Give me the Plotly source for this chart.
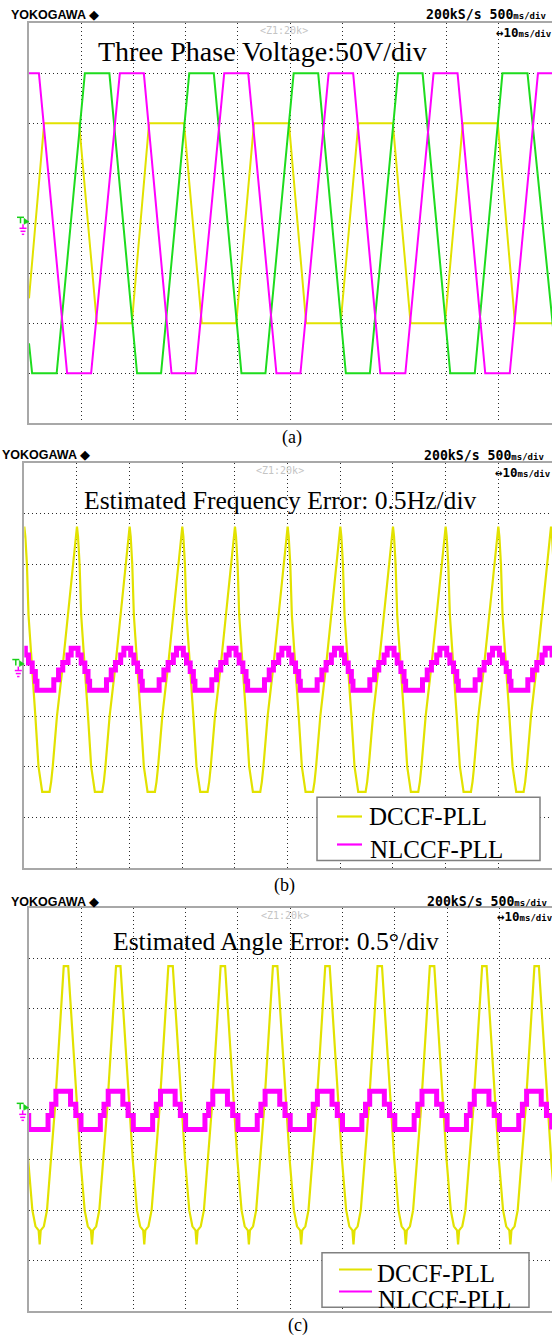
import plotly.graph_objects as go

W, H = 552, 1337

# ---------------- Panel (a): three-phase voltage (x in divisions, y in divisions) ----------------
PHASE_YELLOW_T = [0.00, 0.29, 0.96, 1.30, 1.97, 2.30, 2.97, 3.31, 3.97, 4.31, 4.98,
                  5.31, 5.97, 6.31, 6.97, 7.31, 7.97, 8.31, 8.98, 9.31, 10.05]
PHASE_YELLOW_V = [-1.5, 2, 2, -2, -2, 2, 2, -2, -2, 2, 2,
                  -2, -2, 2, 2, -2, -2, 2, 2, -2, -2]
PHASE_GREEN_T = [0.00, 0.06, 0.53, 1.07, 1.54, 2.07, 2.53, 3.07, 3.54, 4.07, 4.53,
                 5.07, 5.54, 6.07, 6.53, 7.07, 7.54, 8.07, 8.54, 9.07, 9.55, 10.05]
PHASE_GREEN_V = [-2.4, -3, -3, 3, 3, -3, -3, 3, 3, -3, -3,
                 3, 3, -3, -3, 3, 3, -3, -3, 3, 3, -2.2]
PHASE_MAGENTA_T = [0.00, 0.19, 0.73, 1.19, 1.74, 2.20, 2.73, 3.19, 3.74, 4.20, 4.74,
                   5.20, 5.74, 6.21, 6.73, 7.21, 7.75, 8.21, 8.74, 9.21, 9.75, 10.05]
PHASE_MAGENTA_V = [3, 3, -3, -3, 3, 3, -3, -3, 3, 3, -3,
                   -3, 3, 3, -3, -3, 3, 3, -3, -3, 3, 3]

# ---------------- Panel (b): estimated frequency error ----------------
FREQ_CYCLE_STARTS = [-1, 0, 1, 2, 3, 4, 5, 6, 7, 8, 9, 10]      # DCCF peaks (div)
DCCF_FREQ_U = [0.00, 0.02, 0.05, 0.08, 0.15, 0.21, 0.27, 0.31, 0.34, 0.48,
               0.51, 0.54, 0.62, 0.73, 0.83, 0.92, 0.97]
DCCF_FREQ_V = [2.75, 2.55, 2.0, 1.0, 0.0, -1.0, -2.0, -2.35, -2.5, -2.5,
               -2.3, -2.0, -1.0, 0.0, 1.0, 2.0, 2.5]
NLCCF_FREQ_U = [0.00, 0.02, 0.02, 0.08, 0.08, 0.15, 0.15, 0.21, 0.21, 0.24, 0.24,
                0.56, 0.56, 0.65, 0.65, 0.73, 0.73, 0.83, 0.83, 0.89, 0.89]
NLCCF_FREQ_V = [0.34, 0.34, 0.21, 0.21, 0.05, 0.05, -0.12, -0.12, -0.31, -0.31, -0.49,
                -0.49, -0.28, -0.28, -0.09, -0.09, 0.06, 0.06, 0.21, 0.21, 0.34]

# ---------------- Panel (c): estimated angle error ----------------
ANGLE_CYCLE_STARTS = [-0.79, 0.21, 1.21, 2.21, 3.21, 4.21, 5.21, 6.21, 7.21, 8.21, 9.21]  # DCCF troughs
DCCF_ANGLE_U = [0.00, 0.02, 0.08, 0.14, 0.22, 0.29, 0.35, 0.41, 0.445, 0.46, 0.545,
                0.56, 0.59, 0.65, 0.71, 0.78, 0.86, 0.92, 0.98]
DCCF_ANGLE_V = [-2.68, -2.40, -2.32, -2.0, -1.0, 0.0, 1.0, 2.0, 2.6, 2.84, 2.84,
                2.6, 2.0, 1.0, 0.0, -1.0, -2.0, -2.32, -2.40]
NLCCF_ANGLE_U = [0.00, 0.16, 0.16, 0.23, 0.23, 0.31, 0.31, 0.59, 0.59, 0.69, 0.69, 0.79, 0.79]
NLCCF_ANGLE_V = [-0.40, -0.40, -0.12, -0.12, 0.10, 0.10, 0.36, 0.36, 0.10, 0.10, -0.12, -0.12, -0.40]

SERIES_NAMES = ["DCCF-PLL", "NLCCF-PLL"]
TITLES = ["Three Phase Voltage:50V/div", "Estimated Frequency Error: 0.5Hz/div",
          "Estimated Angle Error: 0.5°/div"]
CAPTIONS = ["(a)", "(b)", "(c)"]

YELLOW = "#e2e200"
MAGENTA = "#ff00ff"
GREEN = "#1edc1e"

# panel geometry in pixels
PANELS = [
    dict(L=29.0, div=52.2, top=23.3, bot=423.3),
    dict(L=24.3, div=52.67, top=463.3, bot=867.8),
    dict(L=28.7, div=52.3, top=907.7, bot=1311.0),
]


def px(x):
    return x / W


def py(y):
    return 1 - y / H


def tile(starts, u, v):
    xs, ys = [], []
    for s in starts:
        for a, b in zip(u, v):
            xs.append(s + a)
            ys.append(b)
    return xs, ys


fig = go.Figure()

# (a)
fig.add_trace(go.Scatter(x=PHASE_YELLOW_T, y=PHASE_YELLOW_V, mode="lines", name="Va",
                         line=dict(color=YELLOW, width=2), xaxis="x", yaxis="y"))
fig.add_trace(go.Scatter(x=PHASE_GREEN_T, y=PHASE_GREEN_V, mode="lines", name="Vb",
                         line=dict(color=GREEN, width=2), xaxis="x", yaxis="y"))
fig.add_trace(go.Scatter(x=PHASE_MAGENTA_T, y=PHASE_MAGENTA_V, mode="lines", name="Vc",
                         line=dict(color=MAGENTA, width=2), xaxis="x", yaxis="y"))

# (b)
bx, by = tile(FREQ_CYCLE_STARTS, DCCF_FREQ_U, DCCF_FREQ_V)
fig.add_trace(go.Scatter(x=bx, y=by, mode="lines", name=SERIES_NAMES[0],
                         line=dict(color=YELLOW, width=2.2), xaxis="x2", yaxis="y2"))
bx, by = tile(FREQ_CYCLE_STARTS, NLCCF_FREQ_U, NLCCF_FREQ_V)
fig.add_trace(go.Scatter(x=bx, y=by, mode="lines", name=SERIES_NAMES[1],
                         line=dict(color=MAGENTA, width=5), xaxis="x2", yaxis="y2"))

# (c)
cx, cy = tile(ANGLE_CYCLE_STARTS, DCCF_ANGLE_U, DCCF_ANGLE_V)
fig.add_trace(go.Scatter(x=cx, y=cy, mode="lines", name=SERIES_NAMES[0],
                         line=dict(color=YELLOW, width=2.2), xaxis="x3", yaxis="y3"))
cx, cy = tile(ANGLE_CYCLE_STARTS, NLCCF_ANGLE_U, NLCCF_ANGLE_V)
fig.add_trace(go.Scatter(x=cx, y=cy, mode="lines", name=SERIES_NAMES[1],
                         line=dict(color=MAGENTA, width=5), xaxis="x3", yaxis="y3"))

axis_common = dict(showgrid=True, gridcolor="#2a2a2a", gridwidth=1, griddash="1px,3px",
                   tickmode="array", showticklabels=False, ticks="", zeroline=False,
                   showline=True, linecolor="#a8a8a8", linewidth=1.5, fixedrange=True)

layout_axes = {}
for i, p in enumerate(PANELS):
    sfx = "" if i == 0 else str(i + 1)
    layout_axes["xaxis" + sfx] = dict(domain=[px(p["L"]), 1.0], range=[0, (W - p["L"]) / p["div"]],
                                      tickvals=[1, 2, 3, 4, 5, 6, 7, 8, 9], mirror=True,
                                      anchor="y" + sfx, **axis_common)
    layout_axes["yaxis" + sfx] = dict(domain=[py(p["bot"]), py(p["top"])], range=[-4, 4],
                                      tickvals=[-3, -2, -1, 0, 1, 2, 3], mirror=False,
                                      anchor="x" + sfx, **axis_common)

annotations = []
shapes = []


def ann(text, x, y, size, family, color="black", xanchor="left", yanchor="middle"):
    annotations.append(dict(text=text, x=px(x), y=py(y), xref="paper", yref="paper",
                            showarrow=False, xanchor=xanchor, yanchor=yanchor,
                            font=dict(size=size, family=family, color=color)))


def hline(x0, x1, y, color, width):
    shapes.append(dict(type="line", xref="paper", yref="paper", layer="above",
                       x0=px(x0), x1=px(x1), y0=py(y), y1=py(y),
                       line=dict(color=color, width=width)))


HEADER_Y = [(15, 32.7, 30.7), (455, 472.3, 470), (901.7, 916.7, 915)]
HEADER_X = [(9, 424, 494, 283.5), (0, 422, 493, 280), (9, 425, 495, 284.5)]
TITLE_POS = [(262, 51.7, 28), (280.8, 500, 25.6), (276.4, 941.7, 25.6)]
CAPTION_POS = [(292, 437), (284, 885), (298, 1325)]

for i in range(3):
    hy1, hy2, hyz = HEADER_Y[i]
    hxl, hxr, hxr2, hxz = HEADER_X[i]
    ann("<b>YOKOGAWA</b> ◆", hxl, hy1, 12.5, "Liberation Sans")
    ann("<b>200kS/s 500<span style='font-size:9px'>ms/div</span></b>", hxr, hy1, 13.2, "DejaVu Sans Mono")
    ann("<b>↔10<span style='font-size:9px'>ms/div</span></b>", hxr2, hy2, 12.5, "DejaVu Sans Mono")
    ann("&lt;Z1:20k&gt;", hxz, hyz, 10, "DejaVu Sans Mono", color="#c4c4c4", xanchor="center")
    tx, ty, ts = TITLE_POS[i]
    ann(TITLES[i], tx, ty, ts, "Liberation Serif", xanchor="center")
    cxp, cyp = CAPTION_POS[i]
    ann(CAPTIONS[i], cxp, cyp, 18, "Liberation Serif", xanchor="center")

# trigger / ground markers at the left of the centre line
for p in PANELS:
    L = p["L"]
    c = (p["top"] + p["bot"]) / 2
    g = dict(color="#18d018", width=1.5)
    m = dict(color=MAGENTA, width=1.5)
    shapes.append(dict(type="line", xref="paper", yref="paper", x0=px(L - 12), x1=px(L - 5),
                       y0=py(c - 6), y1=py(c - 6), line=g))
    shapes.append(dict(type="line", xref="paper", yref="paper", x0=px(L - 8.5), x1=px(L - 8.5),
                       y0=py(c - 6), y1=py(c), line=g))
    shapes.append(dict(type="path", xref="paper", yref="paper",
                       path=f"M {px(L-5)} {py(c-5)} L {px(L)} {py(c-1.5)} L {px(L-5)} {py(c+1)} Z",
                       fillcolor="#18d018", line=dict(color="#18d018", width=0.5)))
    shapes.append(dict(type="line", xref="paper", yref="paper", x0=px(L - 6), x1=px(L - 6),
                       y0=py(c + 1), y1=py(c + 5), line=m))
    for dy, half in [(5, 3.5), (8, 2.5), (11, 1.2)]:
        shapes.append(dict(type="line", xref="paper", yref="paper", x0=px(L - 6 - half),
                           x1=px(L - 6 + half), y0=py(c + dy), y1=py(c + dy), line=m))

# legend boxes for panels (b) and (c)
LEGEND_BOXES = [
    dict(x0=317, x1=540, y0=797.3, y1=860.5, lx0=337, lx1=362, ly=[816.5, 844.5],
         tx=367, ty=[816.7, 849.3]),
    dict(x0=322, x1=529, y0=1252.7, y1=1307.3, lx0=339, lx1=372, ly=[1269.5, 1291.5],
         tx=375, ty=[1273.3, 1299.3]),
]
for lb in LEGEND_BOXES:
    shapes.append(dict(type="rect", xref="paper", yref="paper", layer="above",
                       x0=px(lb["x0"]), x1=px(lb["x1"]), y0=py(lb["y1"]), y1=py(lb["y0"]),
                       fillcolor="white", line=dict(color="#808080", width=1.5)))
    for k, col in enumerate([YELLOW, MAGENTA]):
        hline(lb["lx0"], lb["lx1"], lb["ly"][k], col, 2.2)
        ann(SERIES_NAMES[k], lb["tx"] + k, lb["ty"][k], 25, "Liberation Serif")

fig.update_layout(
    width=W, height=H, margin=dict(l=0, r=0, t=0, b=0),
    paper_bgcolor="white", plot_bgcolor="white", showlegend=False,
    annotations=annotations, shapes=shapes,
    **layout_axes,
)

fig.write_html("out.html", config={"displayModeBar": False},
               post_script="document.body.style.margin='0';document.body.style.overflow='hidden';")
